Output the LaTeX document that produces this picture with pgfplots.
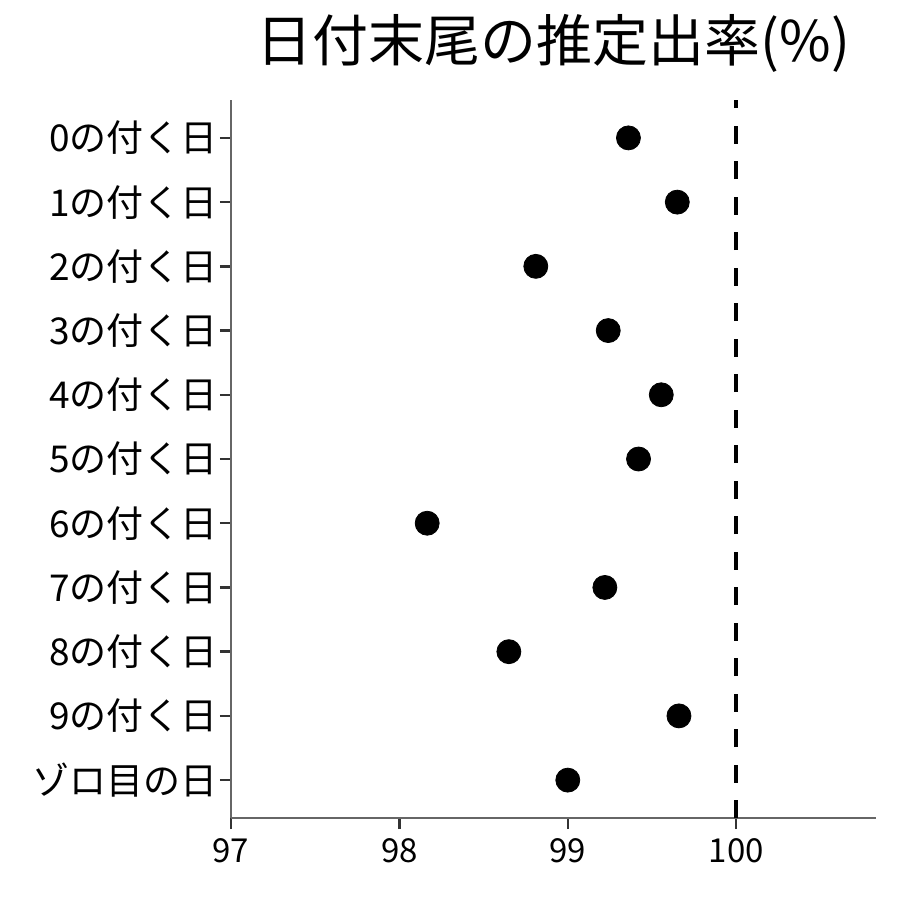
\documentclass[border=0pt]{standalone}
\usepackage{fontspec}
\setmainfont{Noto Sans CJK JP}
\usepackage{pgfplots}
\pgfplotsset{compat=1.18}
\begin{document}
\begin{tikzpicture}
\useasboundingbox (-115.5pt,-41pt) rectangle (334.5pt,409pt);
\begin{axis}[
  at={(0,0)}, anchor=south west,
  scale only axis, width=322.5pt, height=359pt,
  xmin=97, xmax=100.83,
  ymin=-0.59, ymax=10.59, y dir=reverse,
  axis x line*=bottom, axis y line*=left,
  axis line style={gray!80!black, line width=0.6pt, -},
  xtick={97,98,99,100},
  ytick={0,...,10},
  yticklabels={0の付く日,1の付く日,2の付く日,3の付く日,4の付く日,5の付く日,6の付く日,7の付く日,8の付く日,9の付く日,ゾロ目の日},
  tick align=outside, major tick length=5.5pt,
  tick style={black!80, line width=1.2pt},
  /pgf/number format/assume math mode=true,
  xticklabel style={font=\fontsize{16.5pt}{18pt}\selectfont, yshift=-1pt},
  yticklabel style={font=\fontsize{18.5pt}{20pt}\selectfont, xshift=2.5pt},
  title={日付末尾の推定出率(\%)},
  title style={font=\fontsize{28pt}{32pt}\selectfont, yshift=4pt},
  clip=false,
]
\addplot[only marks, mark=*, mark size=6pt, black] coordinates {
  (99.36,0) (99.65,1) (98.81,2) (99.24,3) (99.555,4) (99.42,5)
  (98.165,6) (99.22,7) (98.65,8) (99.66,9) (99.00,10)
};
\addplot[black, line width=2pt, dash pattern=on 9pt off 8.75pt] coordinates {(100,10.59) (100,-0.59)};
\end{axis}
\end{tikzpicture}
\end{document}
